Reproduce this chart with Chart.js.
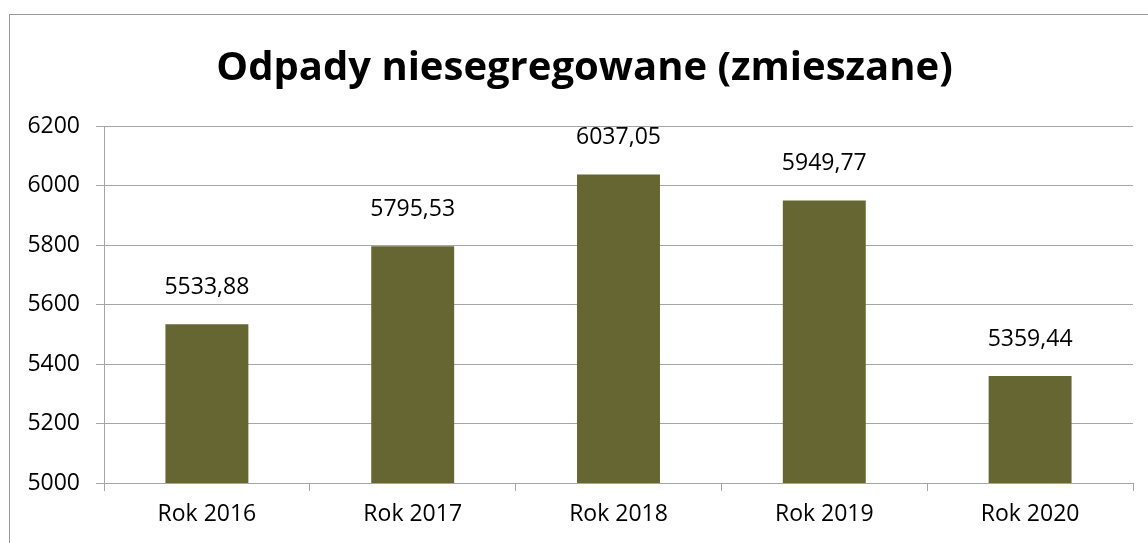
<!DOCTYPE html>
<html>
<head>
<meta charset="utf-8">
<script src="https://cdn.jsdelivr.net/npm/chart.js@4"></script>
<style>
  html, body { margin: 0; padding: 0; background: #fff; overflow: hidden; }
  #box {
    position: absolute;
    left: 9px;
    top: 14px;
    width: 1160px;
    height: 560px;
    border-left: 1px solid #989898;
    border-top: 1px solid #989898;
  }
  #chart { display: block; }
</style>
</head>
<body>
<div id="box">
  <canvas id="chart" width="1149" height="535"></canvas>
</div>
<script>
let titleText = "Odpady niesegregowane (zmieszane)";
let categories = ["Rok 2016", "Rok 2017", "Rok 2018", "Rok 2019", "Rok 2020"];
let values = [5533.88, 5795.53, 6037.05, 5949.77, 5359.44];
let yMin = 5000;
let yMax = 6200;
let yStep = 200;

let fontFamily = "'Open Sans', sans-serif";
let gridColor = "#a6a6a6";

// title centred on the whole chart box, not on the padded area
let boxTitle = {
  id: "boxTitle",
  afterDraw(chart) {
    let ctx = chart.ctx;
    ctx.save();
    ctx.font = "bold 40px " + fontFamily;
    ctx.fillStyle = "#000";
    ctx.textAlign = "center";
    ctx.textBaseline = "alphabetic";
    ctx.fillText(titleText, chart.width / 2, 65);
    ctx.restore();
  },
};

// value labels above the bars, with comma as decimal separator
let barLabels = {
  id: "barLabels",
  afterDatasetsDraw(chart) {
    let ctx = chart.ctx;
    let meta = chart.getDatasetMeta(0);
    ctx.save();
    ctx.font = "23px " + fontFamily;
    ctx.fillStyle = "#000";
    ctx.textAlign = "center";
    ctx.textBaseline = "alphabetic";
    meta.data.forEach((bar, i) => {
      let text = values[i].toFixed(2).replace(".", ",");
      ctx.fillText(text, bar.x, bar.y - 30);
    });
    ctx.restore();
  },
};

const ctx = document.getElementById("chart");

new Chart(ctx, {
  type: "bar",
  data: {
    labels: categories,
    datasets: [
      {
        data: values,
        backgroundColor: "#666633",
        categoryPercentage: 1,
        barPercentage: 0.403,
      },
    ],
  },
  options: {
    responsive: false,
    animation: false,
    layout: {
      padding: { left: 0, right: 26, top: 111, bottom: 0 },
    },
    plugins: {
      legend: { display: false },
      tooltip: { enabled: false },
      title: { display: false },
    },
    scales: {
      x: {
        grid: {
          offset: true,
          drawOnChartArea: false,
          color: gridColor,
          tickLength: 8,
        },
        border: { color: gridColor },
        ticks: {
          color: "#000",
          font: { family: fontFamily, size: 23 },
          padding: 10,
          maxRotation: 0,
        },
        afterFit(scale) {
          scale.height = 67;
        },
      },
      y: {
        min: yMin,
        max: yMax,
        grid: { color: gridColor, tickLength: 8 },
        border: { color: gridColor },
        ticks: {
          stepSize: yStep,
          color: "#000",
          font: { family: fontFamily, size: 23 },
          padding: 16,
          callback: (value) => String(value),
        },
        afterFit(scale) {
          scale.width = 94;
        },
      },
    },
  },
  plugins: [barLabels, boxTitle],
});
</script>
</body>
</html>
